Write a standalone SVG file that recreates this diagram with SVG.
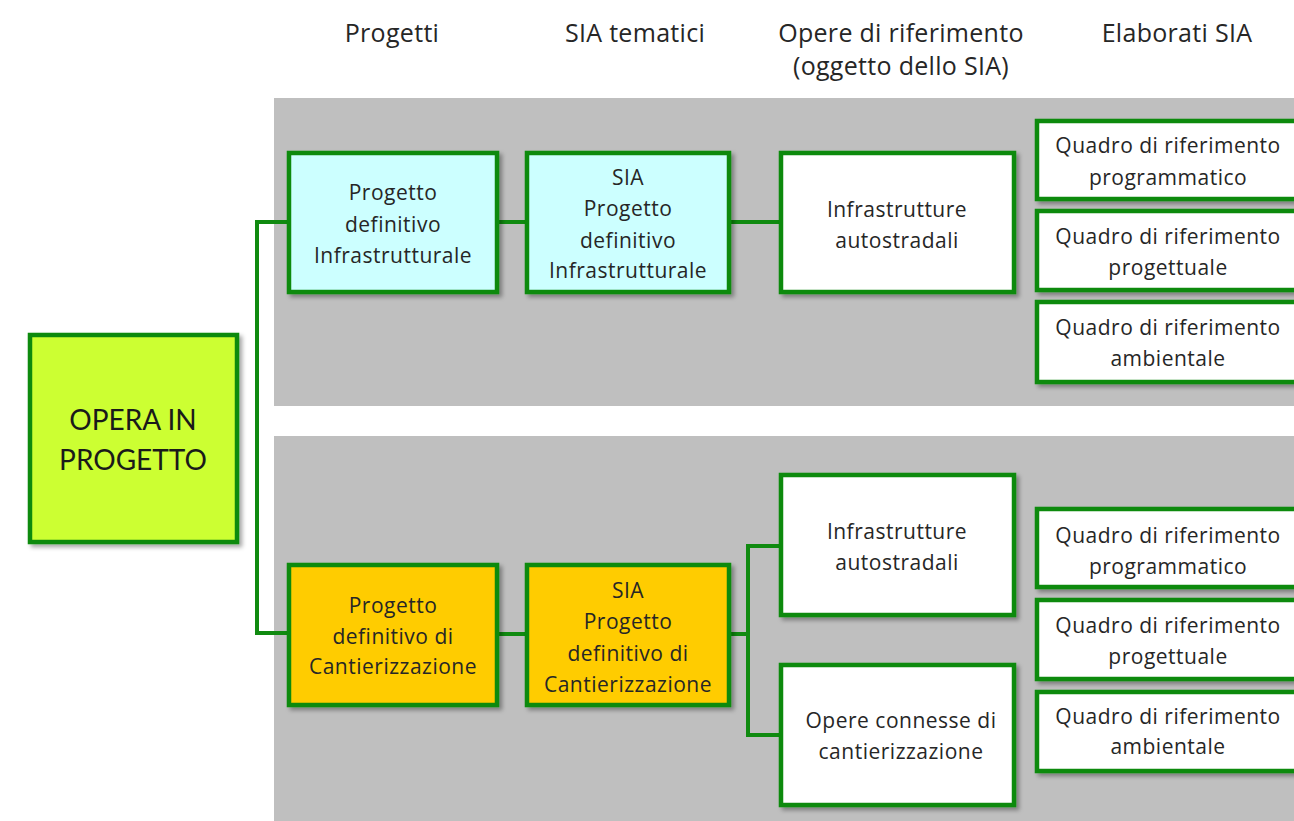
<svg xmlns="http://www.w3.org/2000/svg" width="1294" height="821" viewBox="0 0 1294 821">
<defs>
<filter id="sh" x="-10%" y="-10%" width="130%" height="130%">
<feDropShadow dx="3" dy="3" stdDeviation="2" flood-color="#000" flood-opacity="0.35"/>
</filter>
<style>
.box{stroke:#108a10;stroke-width:4.5;filter:url(#sh)}
.w{fill:#ffffff}.c{fill:#ccffff}.o{fill:#ffcc00}.l{fill:#ccff33}
.t{font-family:"Open Sans","Liberation Sans",sans-serif;font-size:21px;letter-spacing:0.5px;fill:#262626;text-anchor:middle}
.h{font-family:"Open Sans","Liberation Sans",sans-serif;font-size:25px;letter-spacing:0.3px;fill:#262626;text-anchor:middle}
.big{font-family:Lato,"Open Sans","Liberation Sans",sans-serif;font-size:28px;fill:#1a1a1a;text-anchor:middle}
.con{fill:none;stroke:#108a10;stroke-width:4}
</style>
</defs>
<rect width="1294" height="821" fill="#ffffff"/>
<rect x="274" y="98" width="1020" height="308" fill="#bfbfbf"/>
<rect x="274" y="436" width="1020" height="385" fill="#bfbfbf"/>
<g id="headers">
<text class="h" x="392" y="42">Progetti</text>
<text class="h" x="635" y="42">SIA tematici</text>
<text class="h" x="901" y="42">Opere di riferimento</text>
<text class="h" x="901" y="75">(oggetto dello SIA)</text>
<text class="h" x="1177" y="42">Elaborati SIA</text>
</g>
<g id="connectors">
<polyline class="con" points="289,222 257,222 257,633 289,633"/>
<line class="con" x1="497" y1="222" x2="527" y2="222"/>
<line class="con" x1="729" y1="222" x2="780" y2="222"/>
<line class="con" x1="497" y1="634" x2="527" y2="634"/>
<line class="con" x1="729" y1="634" x2="748" y2="634"/>
<polyline class="con" points="780,546 748,546 748,735 780,735"/>
</g>
<g id="opera">
<rect class="box l" x="30" y="335" width="207" height="207"/>
<text class="big" x="133" y="430">OPERA IN</text>
<text class="big" x="133" y="470">PROGETTO</text>
</g>
<g id="pd-infra">
<rect class="box c" x="289" y="153" width="208" height="139"/>
<text class="t" x="393" y="200">Progetto</text>
<text class="t" x="393" y="232">definitivo</text>
<text class="t" x="393" y="263">Infrastrutturale</text>
</g>
<g id="sia-infra">
<rect class="box c" x="527" y="153" width="202" height="139"/>
<text class="t" x="628" y="185">SIA</text>
<text class="t" x="628" y="216">Progetto</text>
<text class="t" x="628" y="248">definitivo</text>
<text class="t" x="628" y="278">Infrastrutturale</text>
</g>
<g id="infra-auto-1">
<rect class="box w" x="781" y="153" width="233" height="139"/>
<text class="t" x="897" y="217">Infrastrutture</text>
<text class="t" x="897" y="248">autostradali</text>
</g>
<g id="q-prog-1">
<rect class="box w" x="1037" y="121" width="270" height="78"/>
<text class="t" x="1168" y="153">Quadro di riferimento</text>
<text class="t" x="1168" y="185">programmatico</text>
</g>
<g id="q-proget-1">
<rect class="box w" x="1037" y="211" width="270" height="79"/>
<text class="t" x="1168" y="244">Quadro di riferimento</text>
<text class="t" x="1168" y="275">progettuale</text>
</g>
<g id="q-amb-1">
<rect class="box w" x="1037" y="302" width="270" height="80"/>
<text class="t" x="1168" y="335">Quadro di riferimento</text>
<text class="t" x="1168" y="366">ambientale</text>
</g>
<g id="pd-cant">
<rect class="box o" x="289" y="565" width="208" height="140"/>
<text class="t" x="393" y="613">Progetto</text>
<text class="t" x="393" y="644">definitivo di</text>
<text class="t" x="393" y="674">Cantierizzazione</text>
</g>
<g id="sia-cant">
<rect class="box o" x="527" y="565" width="202" height="140"/>
<text class="t" x="628" y="598">SIA</text>
<text class="t" x="628" y="629">Progetto</text>
<text class="t" x="628" y="661">definitivo di</text>
<text class="t" x="628" y="692">Cantierizzazione</text>
</g>
<g id="infra-auto-2">
<rect class="box w" x="781" y="475" width="233" height="140"/>
<text class="t" x="897" y="539">Infrastrutture</text>
<text class="t" x="897" y="570">autostradali</text>
</g>
<g id="opere-conn">
<rect class="box w" x="781" y="665" width="233" height="140"/>
<text class="t" x="901" y="728">Opere connesse di</text>
<text class="t" x="901" y="759">cantierizzazione</text>
</g>
<g id="q-prog-2">
<rect class="box w" x="1037" y="509" width="270" height="78"/>
<text class="t" x="1168" y="543">Quadro di riferimento</text>
<text class="t" x="1168" y="574">programmatico</text>
</g>
<g id="q-proget-2">
<rect class="box w" x="1037" y="600" width="270" height="79"/>
<text class="t" x="1168" y="633">Quadro di riferimento</text>
<text class="t" x="1168" y="664">progettuale</text>
</g>
<g id="q-amb-2">
<rect class="box w" x="1037" y="692" width="270" height="79"/>
<text class="t" x="1168" y="724">Quadro di riferimento</text>
<text class="t" x="1168" y="754">ambientale</text>
</g>
</svg>
